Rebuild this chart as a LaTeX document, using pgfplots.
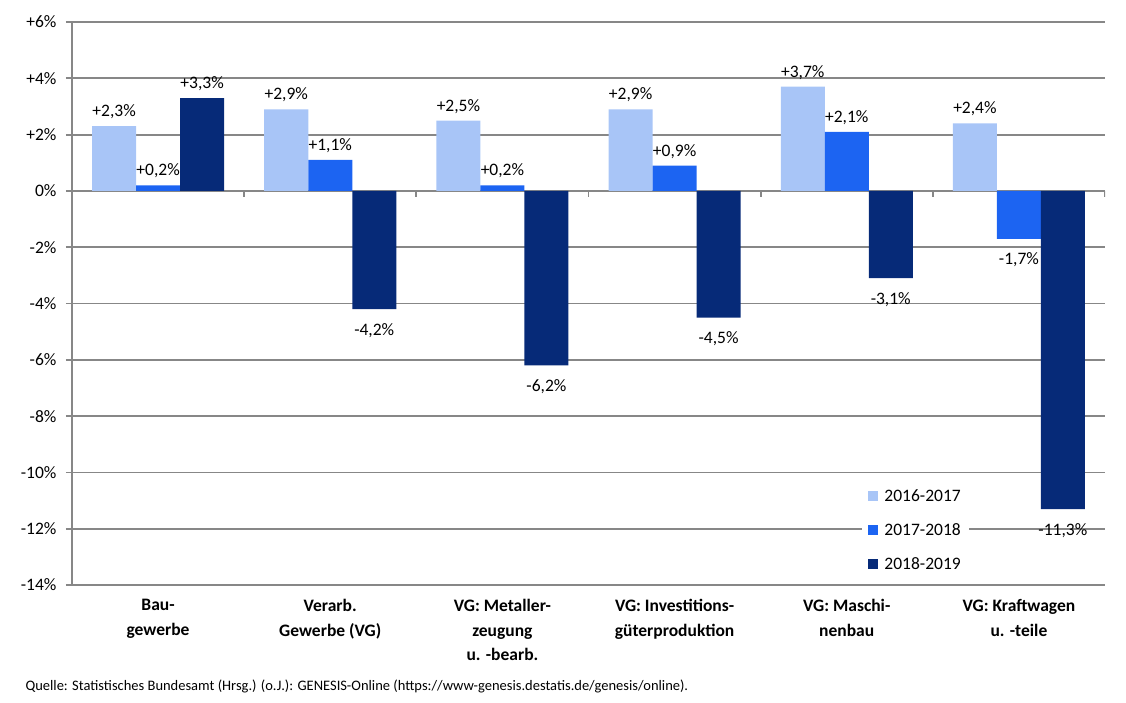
\documentclass[border=0pt]{standalone}
\usepackage{pgfplots}
\pgfplotsset{compat=1.18}
\usepackage{fontspec}
\setmainfont{Carlito}
\definecolor{c1}{HTML}{A8C5F7}
\definecolor{c2}{HTML}{1C64F2}
\definecolor{c3}{HTML}{062A78}
\definecolor{gridgray}{HTML}{878787}
\begin{document}
\begin{tikzpicture}
\useasboundingbox (-72pt,-117pt) rectangle (1054pt,585pt);
\begin{axis}[
    scale only axis,
    width=1033pt, height=563pt,
    at={(0pt,0pt)}, anchor=south west,
    ybar=0pt, bar width=44pt,
    xmin=-0.5, xmax=5.5,
    ymin=-14, ymax=6,
    axis lines*=left,
    axis line style={gridgray, line width=1.8pt},
    ytick={-14,-12,...,6},
    yticklabels={-14\%,-12\%,-10\%,-8\%,-6\%,-4\%,-2\%,0\%,+2\%,+4\%,+6\%},
    ymajorgrids=true,
    grid style={gridgray, line width=1.8pt},
    ytick style={gridgray, line width=1.8pt},
    tick align=outside,
    major tick length=6pt,
    xtick={0,1,2,3,4,5},
    xtick style={draw=none},
    xticklabels={{Bau-\\gewerbe},{Verarb.\\Gewerbe (VG)},{VG: Metaller-\\zeugung\\u. -bearb.},{VG: Investitions-\\güterproduktion},{VG: Maschi-\\nenbau},{VG: Kraftwagen\\u. -teile}},
    xticklabel style={align=center, font=\fontsize{17.5}{24.5}\selectfont\bfseries, yshift=-5pt},
    yticklabel style={font=\fontsize{17.5}{20}\selectfont, xshift=-6pt},
    /pgf/number format/assume math mode=true,
    nodes near coords={\pgfmathprintnumber[fixed, fixed zerofill, precision=1, use comma, showpos]{\pgfplotspointmeta}\%},
    every node near coord/.append style={font=\fontsize{17.5}{20}\selectfont, text=black, inner ysep=7pt},
    coordinate style/.condition={y<0}{yshift=-7pt},
    legend style={at={(0.765,0.012)}, anchor=south west, draw=none, fill=white,
        font=\fontsize{17.5}{20}\selectfont, row sep=16.5pt, inner xsep=6pt, inner ysep=5pt,
        /tikz/every odd column/.append style={column sep=4pt}},
    legend cell align=left,
    legend image code/.code={\fill[#1] (0pt,-5pt) rectangle (10pt,5pt);},
]
\addplot[fill=c1, draw=none] coordinates {(0,2.3) (1,2.9) (2,2.5) (3,2.9) (4,3.7) (5,2.4)};
\addplot[fill=c2, draw=none] coordinates {(0,0.2) (1,1.1) (2,0.2) (3,0.9) (4,2.1) (5,-1.7)};
\addplot[fill=c3, draw=none] coordinates {(0,3.3) (1,-4.2) (2,-6.2) (3,-4.5) (4,-3.1) (5,-11.3)};
\legend{2016-2017,2017-2018,2018-2019}
\draw[gridgray, line width=1.8pt] (axis cs:0.5,0) -- ++(0pt,-6pt);
\draw[gridgray, line width=1.8pt] (axis cs:1.5,0) -- ++(0pt,-6pt);
\draw[gridgray, line width=1.8pt] (axis cs:2.5,0) -- ++(0pt,-6pt);
\draw[gridgray, line width=1.8pt] (axis cs:3.5,0) -- ++(0pt,-6pt);
\draw[gridgray, line width=1.8pt] (axis cs:4.5,0) -- ++(0pt,-6pt);
\draw[gridgray, line width=1.8pt] (axis cs:5.5,0) -- ++(0pt,-6pt);
\end{axis}
\node[anchor=west, font=\fontsize{14.5}{16}\selectfont] at (-50pt,-101pt) {Quelle: Statistisches Bundesamt (Hrsg.) (o.J.): GENESIS-Online (https://www-genesis.destatis.de/genesis/online).};
\end{tikzpicture}
\end{document}
